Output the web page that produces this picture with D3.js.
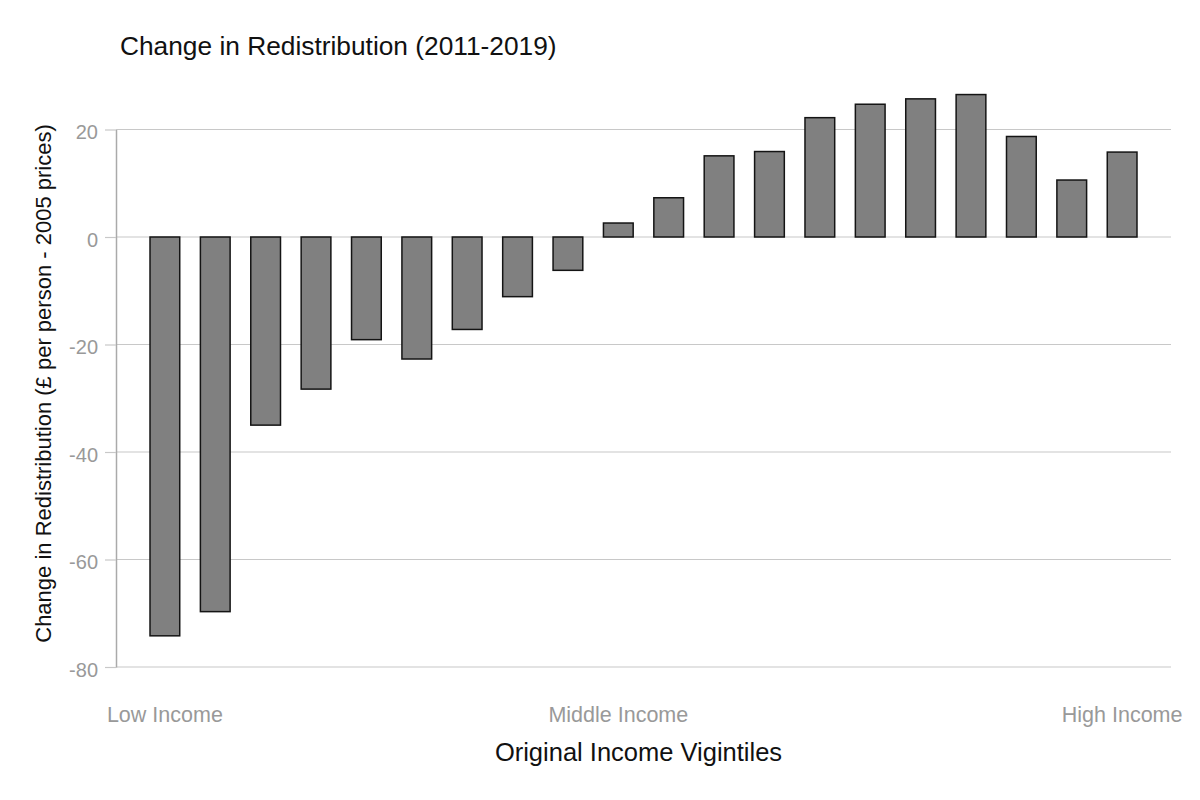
<!DOCTYPE html>
<html lang="en">
<head>
    <meta charset="UTF-8">
    <title>Change in Redistribution (2011-2019)</title>
    <script src="https://d3js.org/d3.v7.min.js"></script>
    <style>
        body {
            margin: 0;
            padding: 0;
            background: #fff;
            font-family: "Liberation Sans", Arial, Helvetica, sans-serif;
        }
        svg { display: block; }
    </style>
</head>
<body>
    <script>
        // Data
        const vigintiles = d3.range(1, 21);
        const changes = [-74.2, -69.7, -35.0, -28.3, -19.1, -22.7, -17.2, -11.1, -6.2, 2.6,
                         7.3, 15.1, 15.9, 22.2, 24.7, 25.7, 26.5, 18.7, 10.6, 15.8];
        const xTickValues = [1, 10, 20];
        const xTickLabels = ["Low Income", "Middle Income", "High Income"];
        const yTicks = [-80, -60, -40, -20, 0, 20];

        const width = 1200;
        const height = 800;
        const plot = { left: 116, right: 1171, top: 129.5, bottom: 667 };

        const svg = d3.select("body")
            .append("svg")
            .attr("width", width)
            .attr("height", height);

        const x = d3.scaleBand()
            .domain(vigintiles)
            .range([plot.left, plot.right])
            .paddingInner(0.41)
            .paddingOuter(0.675);

        const y = d3.scaleLinear()
            .domain([-80, 20])
            .range([plot.bottom, plot.top]);

        // Gridlines
        svg.append("g")
            .selectAll("line")
            .data(yTicks)
            .join("line")
            .attr("x1", plot.left)
            .attr("x2", plot.right)
            .attr("y1", d => y(d))
            .attr("y2", d => y(d))
            .attr("stroke", "#c8c8c8")
            .attr("stroke-width", 1.2);

        // Y axis (plain hyphen for negatives, as in the original)
        const yAxis = svg.append("g")
            .attr("transform", `translate(${plot.left},0)`)
            .call(d3.axisLeft(y)
                .tickValues(yTicks)
                .tickFormat(d => String(d))
                .tickSize(11)
                .tickPadding(7)
                .tickSizeOuter(0));
        yAxis.select(".domain").attr("stroke", "#aaa").attr("stroke-width", 1.5);
        yAxis.selectAll(".tick line").attr("stroke", "#c8c8c8").attr("stroke-width", 1.2);
        yAxis.selectAll(".tick text")
            .attr("fill", "#999")
            .attr("font-size", "20px")
            .attr("font-family", "'Liberation Sans', Arial, sans-serif")
            .attr("dy", "0.47em");

        // X axis (labels only)
        const xAxis = svg.append("g")
            .attr("transform", `translate(0,${plot.bottom})`)
            .call(d3.axisBottom(x)
                .tickValues(xTickValues)
                .tickFormat(d => xTickLabels[xTickValues.indexOf(d)])
                .tickSize(0)
                .tickPadding(40));
        xAxis.select(".domain").remove();
        xAxis.selectAll(".tick text")
            .attr("fill", "#999")
            .attr("font-size", "21.5px")
            .attr("font-family", "'Liberation Sans', Arial, sans-serif");

        // Bars
        svg.append("g")
            .selectAll("rect")
            .data(changes)
            .join("rect")
            .attr("x", (d, i) => x(vigintiles[i]))
            .attr("width", x.bandwidth())
            .attr("y", d => y(Math.max(0, d)))
            .attr("height", d => Math.abs(y(d) - y(0)))
            .attr("fill", "#808080")
            .attr("stroke", "#141414")
            .attr("stroke-width", 1.5);

        // Titles
        svg.append("text")
            .attr("x", 120)
            .attr("y", 55)
            .attr("font-size", "26.3px")
            .attr("fill", "#111")
            .text("Change in Redistribution (2011-2019)");

        svg.append("text")
            .attr("x", 638.5)
            .attr("y", 761)
            .attr("text-anchor", "middle")
            .attr("font-size", "25.5px")
            .attr("fill", "#111")
            .text("Original Income Vigintiles");

        svg.append("text")
            .attr("transform", `translate(51,383.5) rotate(-90)`)
            .attr("text-anchor", "middle")
            .attr("font-size", "22px")
            .attr("fill", "#111")
            .text("Change in Redistribution (£ per person - 2005 prices)");
    </script>
</body>
</html>
